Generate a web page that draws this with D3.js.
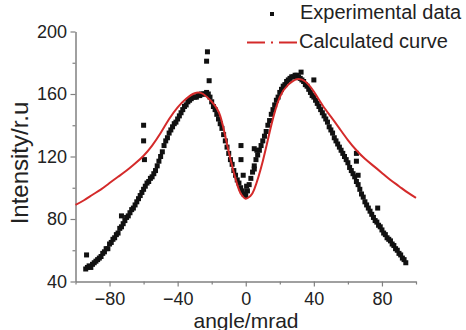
<!DOCTYPE html>
<html>
<head>
<meta charset="utf-8">
<script src="https://cdnjs.cloudflare.com/ajax/libs/d3/7.8.5/d3.min.js"></script>
<style>
  html, body { margin: 0; padding: 0; background: #fff; }
  svg { display: block; font-family: "Liberation Sans", Arial, sans-serif; }
</style>
</head>
<body>
<div id="chart"></div>
<script>
// experimental scan (angle in mrad, intensity in r.u)
const expAngle = [-94,-93,-92,-91,-90,-89,-88,-87,-86,-85,-84,-83,-82,-81,-80,-79,-78,-77,-76,-75,-74,-73,-72,-71,-70,-69,-68,-67,-66,-65,-64,-63,-62,-61,-60,-59,-58,-57,-56,-55,-54,-53,-52,-51,-50,-49,-48,-47,-46,-45,-44,-43,-42,-41,-40,-39,-38,-37,-36,-35,-34,-33,-32,-31,-30,-29,-28,-27,-26,-25,-24,-23,-22,-21,-20,-19,-18,-17,-16,-15,-14,-13,-12,-11,-10,-9,-8,-7,-6,-5,-4,-3,-2,-1,0,1,2,3,4,5,6,7,8,9,10,11,12,13,14,15,16,17,18,19,20,21,22,23,24,25,26,27,28,29,30,31,32,33,34,35,36,37,38,39,40,41,42,43,44,45,46,47,48,49,50,51,52,53,54,55,56,57,58,59,60,61,62,63,64,65,66,67,68,69,70,71,72,73,74,75,76,77,78,79,80,81,82,83,84,85,86,87,88,89,90,91,92,93,94];
const expIntensity = [
  48,49,50,49,51,52,53,54,55,56,58,59,61,61,64,
  65,67,68,70,71,74,75,77,79,81,
  82,84,86,87,89,91,93,95,97,99,
  101,103,104,106,107,109,111,114,117,120,
  123,127,130,132,135,137,139,141,142,144,
  146,148,150,152,153,155,156,157,158,158,
  158,159,159,160,160,160,161,160,158,155,
  152,150,147,144,141,138,134,130,126,122,
  118,115,111,108,105,103,100,98,96,95,
  98,102,106,110,114,118,121,124,127,130,
  133,136,140,143,147,150,153,156,158,161,
  163,165,166,168,169,170,171,171,172,172,
  171,170,169,168,166,165,163,161,159,158,
  156,154,152,150,148,146,144,142,139,137,
  135,132,130,128,126,124,122,120,118,116,
  113,111,109,107,104,102,99,96,94,91,
  89,87,85,83,81,79,78,76,75,73,
  71,70,68,67,66,64,63,61,60,58,57,55,54,52
];
// stray points off the main band
const strayAngle = [-93.5,-73,-60,-60,-59.5,-22.5,-23,-21.5,-2.8,-2.8,-1.5,0.5,5,5,6.5,32.5,40,65,65,66,77.5];
const strayIntensity = [57,82,140,130,118,187,181,168.5,127,118,108,101,125,112,124,174,169,122,117,108,87];

// calculated curve
const calcAngle = [-100,-95,-90,-85,-80,-75,-70,-65,-60,-55,-50,-45,-40,-35,-30,-25,-20,-15,-10,-5,-2.5,0,2.5,5,10,15,20,25,30,35,40,45,50,55,60,65,70,75,80,85,90,95,100];
const calcIntensity = [89,92,95.5,99,103,107,111,115.5,120.5,127,135,144,151.5,157,160.5,160,155,146,123,102,95.5,93,94.5,99,117,140,158,166,169.5,168,161.5,153,145.5,138,130.5,124,118.5,114,109.5,105,101,97,93.5];

const xTicks = [-80, -40, 0, 40, 80];
const xMinor = [-100, -60, -20, 20, 60, 100];
const yTicks = [40, 80, 120, 160, 200];
const yMinor = [60, 100, 140, 180];

const width = 466, height = 330;
const red = '#d42a2a';
const axisGrey = '#808080';

const svg = d3.select('#chart')
  .append('svg')
  .attr('width', width)
  .attr('height', height);

const x = d3.scaleLinear().domain([-100, 100]).range([75.5, 416]);
const y = d3.scaleLinear().domain([40, 200]).range([281.5, 31.5]);

// minor ticks first, then the main axes
svg.append('g')
  .attr('transform', `translate(0, ${y(40)})`)
  .call(d3.axisBottom(x).tickValues(xMinor).tickSize(3).tickSizeOuter(0).tickFormat(''))
  .call(g => g.select('.domain').remove());
svg.append('g')
  .attr('transform', `translate(${x(-100)}, 0)`)
  .call(d3.axisLeft(y).tickValues(yMinor).tickSize(3).tickSizeOuter(0).tickFormat(''))
  .call(g => g.select('.domain').remove());

svg.append('g')
  .attr('transform', `translate(0, ${y(40)})`)
  .call(d3.axisBottom(x).tickValues(xTicks).tickSize(5).tickSizeOuter(0).tickPadding(5.5));

svg.append('g')
  .attr('transform', `translate(${x(-100)}, 0)`)
  .call(d3.axisLeft(y).tickValues(yTicks).tickSize(5).tickSizeOuter(0).tickPadding(3.5));

svg.selectAll('.domain').attr('stroke', axisGrey).attr('stroke-width', 1.5);
svg.selectAll('.tick line').attr('stroke', axisGrey).attr('stroke-width', 1.2);
svg.selectAll('.tick text')
  .attr('fill', '#222')
  .style('font-size', '18px')
  .style('font-family', '"Liberation Sans", Arial, sans-serif');

// experimental points
const pts = expAngle.map((a, i) => ({ a, v: expIntensity[i] }))
  .concat(strayAngle.map((a, i) => ({ a, v: strayIntensity[i] })));
svg.append('g')
  .selectAll('rect')
  .data(pts)
  .enter()
  .append('rect')
  .attr('x', d => x(d.a) - 2.5)
  .attr('y', d => y(d.v) - 2.5)
  .attr('width', 5)
  .attr('height', 5)
  .attr('fill', '#111');

// calculated curve
const line = d3.line()
  .x(d => x(d.a))
  .y(d => y(d.v))
  .curve(d3.curveNatural);
svg.append('path')
  .datum(calcAngle.map((a, i) => ({ a, v: calcIntensity[i] })))
  .attr('d', line)
  .attr('fill', 'none')
  .attr('stroke', red)
  .attr('stroke-width', 2);

// axis titles
svg.append('text')
  .attr('x', 246)
  .attr('y', 327.5)
  .attr('text-anchor', 'middle')
  .attr('fill', '#222')
  .style('font-size', '21px')
  .text('angle/mrad');

svg.append('text')
  .attr('transform', 'translate(28, 163) rotate(-90)')
  .attr('text-anchor', 'middle')
  .attr('fill', '#222')
  .style('font-size', '24px')
  .text('Intensity/r.u');

// legend
const legend = svg.append('g');
legend.append('rect')
  .attr('x', 270).attr('y', 12)
  .attr('width', 4).attr('height', 4)
  .attr('fill', '#111');
legend.append('text')
  .attr('x', 300).attr('y', 19)
  .attr('fill', '#222')
  .style('font-size', '20px')
  .text('Experimental data');
legend.append('line')
  .attr('x1', 247).attr('x2', 297)
  .attr('y1', 42.5).attr('y2', 42.5)
  .attr('stroke', red)
  .attr('stroke-width', 2)
  .attr('stroke-dasharray', '18,6,2,6');
legend.append('text')
  .attr('x', 299).attr('y', 48)
  .attr('fill', '#222')
  .style('font-size', '20px')
  .text('Calculated curve');
</script>
</body>
</html>
